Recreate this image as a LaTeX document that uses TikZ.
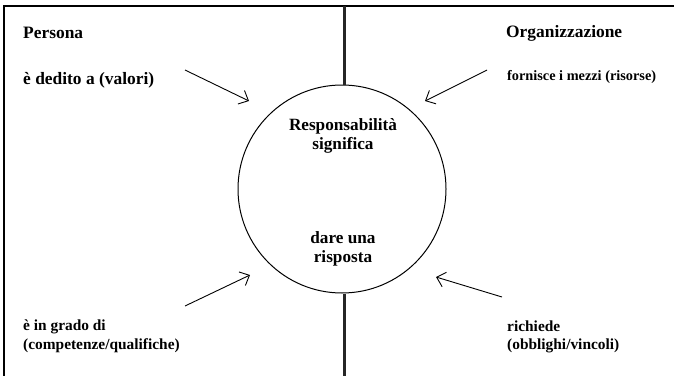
\documentclass[tikz,border=0pt]{standalone}
\usepackage{fontspec}
\setmainfont{Liberation Serif}
\usetikzlibrary{arrows.meta}
\tikzset{
  lbl/.style={inner sep=0pt, font=\bfseries\fontsize{17.4}{19}\selectfont, anchor=base west},
  lblsm/.style={inner sep=0pt, font=\bfseries\fontsize{14.3}{16}\selectfont, anchor=base west},
  lblmd/.style={inner sep=0pt, font=\bfseries\fontsize{15.4}{17}\selectfont, anchor=base west},
  ctr/.style={inner sep=0pt, font=\bfseries\fontsize{17.2}{19}\selectfont, anchor=base},
  arr/.style={line width=0.9pt, -{Straight Barb[length=8pt,width=15pt,line width=0.9pt]}},
  frame/.style={line width=1.2pt},
  divider/.style={line width=3pt, draw=black!85},
}
\begin{document}
\begin{tikzpicture}[x=1pt,y=-1pt]
\useasboundingbox (0,0) rectangle (674,375);
% frame
\coordinate (fbl) at (4,376);
\coordinate (ftl) at (4,6);
\coordinate (ftr) at (675,6);
\draw[frame] (fbl) -- (ftl) -- (ftr);
% circle
\node[draw, circle, line width=1pt, minimum size=208pt, inner sep=0pt] (c) at (342,189) {};
% divider
\coordinate (dtop) at (344,6);
\coordinate (dbot) at (344,376);
\draw[divider] (dtop) -- (c.north -| dtop);
\draw[divider] (c.south -| dbot) -- (dbot);
% texts
\node[lbl] (persona) at (23,38.5) {Persona};
\node[lbl] (dedito) at (23,84) {è dedito a (valori)};
\node[lbl] (org) at (506,37.5) {Organizzazione};
\node[lblsm] (forn) at (507,80) {fornisce i mezzi (risorse)};
\node[ctr] (resp) at (343,130) {Responsabilità};
\node[ctr] (sign) at (343,149.5) {significa};
\node[ctr] (dare) at (343,243) {dare una};
\node[ctr] (risp) at (343,262.5) {risposta};
\node[lblmd] (grado) at (23,330.5) {è in grado di};
\node[lblmd] (comp) at (23,349.5) {(competenze/qualifiche)};
\node[lblmd] (rich) at (507,331.5) {richiede};
\node[lblmd] (obbl) at (507,349.5) {(obblighi/vincoli)};
% arrows
\coordinate (a1s) at (185,70);  \coordinate (a1e) at (249,101);
\coordinate (a2s) at (487,70);  \coordinate (a2e) at (425,101);
\coordinate (a3s) at (185,306); \coordinate (a3e) at (250,275);
\coordinate (a4s) at (502,297); \coordinate (a4e) at (436,277);
\draw[arr] (a1s) -- (a1e);
\draw[arr] (a2s) -- (a2e);
\draw[arr] (a3s) -- (a3e);
\draw[arr] (a4s) -- (a4e);
\end{tikzpicture}
\end{document}
